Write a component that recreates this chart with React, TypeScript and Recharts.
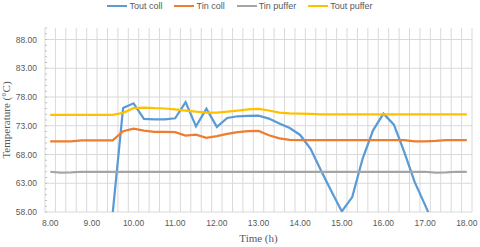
import { LineChart, Line, XAxis, YAxis, ReferenceLine } from "recharts";

// time axis (h), one reading every 15 min
const TIME = [
    8.0, 8.25, 8.5, 8.75, 9.0, 9.25, 9.5, 9.75, 10.0, 10.25, 10.5, 10.75, 11.0, 11.25,
    11.5, 11.75, 12.0, 12.25, 12.5, 12.75, 13.0, 13.25, 13.5, 13.75, 14.0, 14.25, 14.5,
    14.75, 15.0, 15.25, 15.5, 15.75, 16.0, 16.25, 16.5, 16.75, 17.0, 17.25, 17.5, 17.75, 18.0,
];

const TOUT_COLL = [
    45, 45, 46, 46, 47, 48, 57.8, 76.1, 76.9, 74.2, 74.1, 74.1, 74.3, 77.1,
    72.9, 75.95, 72.8, 74.35, 74.65, 74.7, 74.75, 74.25, 73.4, 72.6, 71.4, 69.0, 65.2,
    61.6, 58.1, 60.6, 67.3, 72.2, 75.1, 73.2, 68.4, 63.2, 59.2, 55.0, 52, 50, 48,
];

const TIN_COLL = [
    70.3, 70.3, 70.3, 70.45, 70.45, 70.45, 70.45, 72.05, 72.5, 72.15, 71.95, 71.95, 71.9, 71.3,
    71.45, 70.9, 71.2, 71.6, 71.9, 72.05, 72.1, 71.35, 70.8, 70.55, 70.5, 70.5, 70.5,
    70.5, 70.5, 70.5, 70.5, 70.5, 70.5, 70.5, 70.5, 70.3, 70.3, 70.35, 70.5, 70.5, 70.5,
];

const TIN_PUFFER = [
    65.0, 64.85, 64.9, 65.0, 65.0, 65.0, 65.0, 65.0, 65.0, 65.0, 65.0, 65.0, 65.0, 65.0,
    65.0, 65.0, 65.0, 65.0, 65.0, 65.0, 65.0, 65.0, 65.0, 65.0, 65.0, 65.0, 65.0,
    65.0, 65.0, 65.0, 65.0, 65.0, 65.0, 65.0, 65.0, 65.0, 65.0, 64.85, 64.9, 65.0, 65.0,
];

const TOUT_PUFFER = [
    74.9, 74.9, 74.9, 74.9, 74.9, 74.9, 74.9, 75.25, 76.05, 76.15, 76.05, 76.0, 75.85, 75.65,
    75.45, 75.3, 75.3, 75.45, 75.65, 75.85, 75.95, 75.65, 75.3, 75.15, 75.1, 75.05, 75.0,
    75.0, 75.0, 75.0, 75.0, 75.0, 75.0, 75.0, 75.0, 75.0, 75.0, 75.0, 75.0, 75.0, 75.0,
];

const X_TICKS = [8, 9, 10, 11, 12, 13, 14, 15, 16, 17, 18];
const Y_TICKS = [58, 63, 68, 73, 78, 83, 88];

const data = TIME.map((t, i) => ({
    time: t,
    toutColl: TOUT_COLL[i],
    tinColl: TIN_COLL[i],
    tinPuffer: TIN_PUFFER[i],
    toutPuffer: TOUT_PUFFER[i],
}));

// grid lines sit between the 15-min readings, minor y ticks every degree
const GRID_X = Array.from({ length: TIME.length + 1 }, (_, i) => TIME[0] - 0.125 + i * 0.25);
const MINOR_Y = Array.from({ length: 33 }, (_, i) => 58 + i);
const X_DOMAIN = [GRID_X[0], GRID_X[GRID_X.length - 1]];
const Y_DOMAIN = [58, 90];

const SERIES = [
    { key: "toutColl", name: "Tout coll", color: "#5B9BD5" },
    { key: "tinColl", name: "Tin coll", color: "#ED7D31" },
    { key: "tinPuffer", name: "Tin puffer", color: "#A5A5A5" },
    { key: "toutPuffer", name: "Tout puffer", color: "#FFC000" },
];

const GRID = "#D9D9D9";
const tickStyle = { fontFamily: "Liberation Sans", fontSize: 8.5, fill: "#595959" };

function ChartLegend() {
    return (
        <div style={{ position: "absolute", top: 1, left: 0, width: 480, display: "flex", justifyContent: "center", gap: 12, fontFamily: "Liberation Sans", fontSize: 9, color: "#595959" }}>
            {SERIES.map((s) => (
                <div key={s.key} style={{ display: "flex", alignItems: "center" }}>
                    <span style={{ display: "inline-block", width: 20, height: 2, background: s.color, marginRight: 2 }} />
                    {s.name}
                </div>
            ))}
        </div>
    );
}

export default function App() {
    return (
        <div style={{ position: "relative", width: 480, height: 247, background: "#fff" }}>
            <style>{`body{margin:0}`}</style>
            <ChartLegend />
            <LineChart width={480} height={247} data={data} margin={{ top: 28, right: 8, bottom: 5, left: 0 }}>
                <XAxis
                    dataKey="time"
                    type="number"
                    domain={X_DOMAIN}
                    ticks={X_TICKS}
                    tickFormatter={(v) => v.toFixed(2)}
                    tick={tickStyle}
                    tickLine={false}
                    axisLine={false}
                    height={30}
                    label={{ value: "Time (h)", position: "insideBottom", offset: 0, style: { fontFamily: "Liberation Serif", fontSize: 11, fill: "#595959" } }}
                />
                <YAxis
                    domain={Y_DOMAIN}
                    ticks={Y_TICKS}
                    allowDataOverflow
                    tickFormatter={(v) => v.toFixed(2)}
                    tick={tickStyle}
                    tickLine={false}
                    axisLine={false}
                    width={45}
                    label={{ value: "Temperature (°C)", angle: -90, position: "insideLeft", offset: 6, style: { textAnchor: "middle", fontFamily: "Liberation Serif", fontSize: 11, fill: "#595959" } }}
                />
                {/* 15-min vertical grid, major horizontal grid */}
                {GRID_X.map((x) => (
                    <ReferenceLine key={`gx-${x}`} x={x} stroke={GRID} strokeWidth={1} />
                ))}
                {Y_TICKS.map((y) => (
                    <ReferenceLine key={`gy-${y}`} y={y} stroke={GRID} strokeWidth={1} />
                ))}
                {/* small ticks on the value axis */}
                {MINOR_Y.map((y) => (
                    <ReferenceLine
                        key={`my-${y}`}
                        segment={[{ x: X_DOMAIN[0], y }, { x: X_DOMAIN[0] + 0.05, y }]}
                        stroke="#BFBFBF"
                        strokeWidth={1}
                    />
                ))}
                {SERIES.map((s) => (
                    <Line
                        key={s.key}
                        type="linear"
                        dataKey={s.key}
                        name={s.name}
                        stroke={s.color}
                        strokeWidth={2.25}
                        dot={false}
                        isAnimationActive={false}
                    />
                ))}
            </LineChart>
        </div>
    );
}
